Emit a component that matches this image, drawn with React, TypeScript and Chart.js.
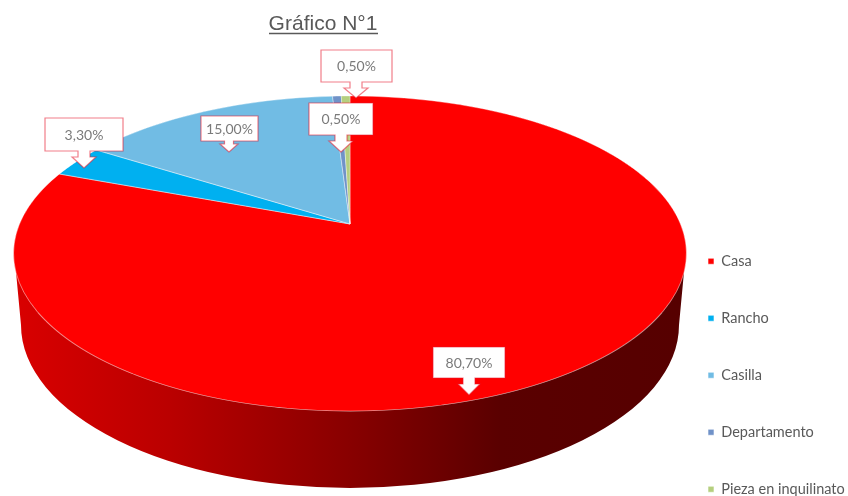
import React, { useEffect, useRef } from "react";
import { Chart, registerables } from "chart.js";

Chart.register(...registerables);

const titleText = "Gráfico N°1";
const categories = ["Casa", "Rancho", "Casilla", "Departamento", "Pieza en inquilinato"];
const shares = [80.7, 3.3, 15.0, 0.5, 0.5];
const sliceColors = ["#ff0000", "#00b0f0", "#71bce4", "#7092c8", "#b5cf7e"];

// Callout boxes: [left, top, right, bottom, tipX, tipY, shaftHalf, headHalf, headY], one per category
const callouts = [
  [433, 347, 505, 378, 469, 395, 6, 11, 384],
  [45, 118, 123, 151, 84, 168, 6, 12, 157],
  [201, 116, 258, 141, 229, 152, 4.5, 9, 144],
  [309, 103, 373, 135, 341, 152, 6, 12, 141],
  [321, 50, 392, 82, 356, 98, 6, 12, 88],
];

// Perspective of the pie's top face
const CX = 350;
const APEX_Y = 224;
const PERSP_A = 330.5;
const PERSP_H = 152;
const PERSP_B = -0.1873;
const RADIUS = 330;

const pct = (v: number) => v.toFixed(2).replace(".", ",") + "%";

const piePlugin = {
  id: "pie3d",
  afterLayout(chart: any) {
    const t = chart.titleBlock;
    t.left = 0;
    t.right = 646;
    t.top = 12;
    t.bottom = 44;
    const l = chart.legend;
    l.left = 665.5;
    l.right = 848;
    l.top = 211.5;
    l.bottom = 700;
  },
  beforeDatasetDraw(chart: any) {
    const ctx = chart.ctx;
    const W = chart.width;
    const arcs = chart.getDatasetMeta(0).data;
    const ax = arcs[0].x;
    const ay = arcs[0].y;

    // side wall
    const g = ctx.createLinearGradient(20, 0, 680, 0);
    g.addColorStop(0, "#d80000");
    g.addColorStop(150 / 660, "#ba0000");
    g.addColorStop(330 / 660, "#880000");
    g.addColorStop(480 / 660, "#5a0000");
    g.addColorStop(1, "#560000");
    ctx.save();
    ctx.beginPath();
    ctx.moveTo(14.5, 256);
    ctx.lineTo(21, 325);
    ctx.ellipse(CX, 325, 329, 163, 0, Math.PI, 0, true);
    ctx.lineTo(685.5, 256);
    ctx.closePath();
    ctx.fillStyle = g;
    ctx.fill();
    ctx.restore();

    // top face: the library's arcs, drawn row by row under a perspective mapping
    for (let row = 92; row < 415; row++) {
      const d = row + 0.5 - APEX_Y;
      const yn = d / (PERSP_H - PERSP_B * d);
      if (Math.abs(yn) > 1.03) continue;
      const w = 1 + PERSP_B * yn;
      const sx = PERSP_A / (RADIUS * w);
      const sy = PERSP_H / (w * w) / RADIUS;
      ctx.save();
      ctx.beginPath();
      ctx.rect(0, row, W, 1);
      ctx.clip();
      ctx.setTransform(sx, 0, 0, sy, CX - ax * sx, row + 0.5 - (ay + yn * RADIUS) * sy);
      arcs.forEach((a: any) => a.draw(ctx));
      ctx.restore();
    }
    return false;
  },
  afterDatasetsDraw(chart: any) {
    const ctx = chart.ctx;
    ctx.save();
    shares.forEach((v, i) => {
      const [l, t, r, b, tx, ty, sh, hh, hy] = callouts[i];
      ctx.beginPath();
      ctx.moveTo(l, t);
      ctx.lineTo(r, t);
      ctx.lineTo(r, b);
      ctx.lineTo(tx + sh, b);
      ctx.lineTo(tx + sh, hy);
      ctx.lineTo(tx + hh, hy);
      ctx.lineTo(tx, ty);
      ctx.lineTo(tx - hh, hy);
      ctx.lineTo(tx - sh, hy);
      ctx.lineTo(tx - sh, b);
      ctx.lineTo(l, b);
      ctx.closePath();
      ctx.fillStyle = "#ffffff";
      ctx.fill();
      ctx.strokeStyle = "rgba(230,20,40,0.55)";
      ctx.lineWidth = 1.2;
      ctx.stroke();
      ctx.fillStyle = "#7a7a7a";
      ctx.font = "14px Lato";
      ctx.textAlign = "center";
      ctx.textBaseline = "middle";
      ctx.fillText(pct(v), (l + r) / 2, (t + b) / 2 + 0.5);
    });
    ctx.restore();
  },
  afterDraw(chart: any) {
    const ctx = chart.ctx;
    ctx.save();
    ctx.strokeStyle = "#595959";
    ctx.lineWidth = 1.4;
    ctx.beginPath();
    ctx.moveTo(269, 33.5);
    ctx.lineTo(378, 33.5);
    ctx.stroke();
    ctx.restore();
  },
};

export default function App() {
  const ref = useRef<HTMLCanvasElement>(null);
  useEffect(() => {
    const chart = new Chart(ref.current as HTMLCanvasElement, {
      type: "pie",
      data: {
        labels: categories,
        datasets: [
          {
            data: shares,
            backgroundColor: sliceColors,
            borderColor: "rgba(255,255,255,0.65)",
            borderWidth: 0.9,
            radius: RADIUS,
          } as any,
        ],
      },
      plugins: [piePlugin as any],
      options: {
        responsive: false,
        animation: false,
        events: [],
        plugins: {
          tooltip: { enabled: false },
          title: {
            display: true,
            text: titleText,
            color: "#595959",
            padding: 0,
            font: { family: "'Liberation Sans'", size: 21, weight: "normal" as any },
          },
          legend: {
            display: true,
            position: "right",
            align: "start",
            labels: {
              boxWidth: 6,
              boxHeight: 6,
              padding: 42.5,
              color: "#595959",
              font: { family: "Lato", size: 14.5 },
            },
          },
        },
      },
    });
    return () => chart.destroy();
  }, []);
  return (
    <canvas
      ref={ref}
      width={848}
      height={496}
      style={{ position: "absolute", left: 0, top: 0, display: "block", filter: "blur(0.6px)" }}
    />
  );
}
